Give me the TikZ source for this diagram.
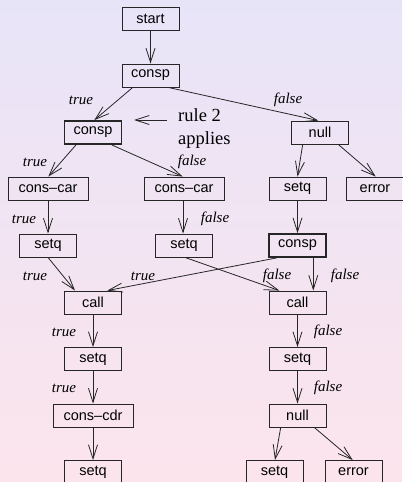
\documentclass[tikz,border=0pt]{standalone}
\usepackage{fontspec}
\setmainfont{Liberation Serif}
\newfontfamily\boxfont{Liberation Sans}
\usetikzlibrary{arrows.meta}
\definecolor{bgtop}{HTML}{E8E4F8}
\definecolor{bgbot}{HTML}{FCE4EC}
\begin{document}
\begin{tikzpicture}[x=1pt,y=-1pt,
  box/.style={draw=black!85, line width=0.9pt, minimum height=23pt, minimum width=57pt,
    inner sep=0pt, font=\boxfont\fontsize{14.5}{16}\selectfont},
  widebox/.style={box, minimum width=80pt},
  thickbox/.style={box, line width=1.8pt},
  lbl/.style={inner sep=0pt, font=\itshape\fontsize{15}{17}\selectfont},
  arr/.style={draw=black!85, line width=0.8pt, -{Straight Barb[length=14pt,width=9pt]}}]
\shade[top color=bgtop, bottom color=bgbot] (0,0) rectangle (402,482);
\useasboundingbox (0,0) rectangle (402,482);

% nodes
\node[box] (start) at (150.5,18.5) {start};
\node[box] (c1) at (150.5,75.5) {consp};
\node[thickbox] (c2) at (93,132.5) {consp};
\node[box] (n1) at (320,132.5) {null};
\node[widebox] (cc1) at (48,188.5) {cons\textendash car};
\node[widebox] (cc2) at (184,188.5) {cons\textendash car};
\node[box] (s1) at (297.5,188.5) {setq};
\node[box] (e1) at (375,188.5) {error};
\node[box] (s2) at (48,245.5) {setq};
\node[box] (s3) at (184,245.5) {setq};
\node[thickbox] (c3) at (297.5,245.5) {consp};
\node[box] (call1) at (93,302.5) {call};
\node[box] (call2) at (297.5,302.5) {call};
\node[box] (s4) at (93,359) {setq};
\node[box] (s5) at (297.5,359) {setq};
\node[widebox] (cdr) at (93,415.5) {cons\textendash cdr};
\node[box] (n2) at (297.5,415.5) {null};
\node[box] (s6) at (93,472) {setq};
\node[box] (s7) at (274.5,472) {setq};
\node[box] (e2) at (353.5,472) {error};

% rule note
\node[anchor=base west, inner sep=0pt, align=left, font=\fontsize{18.5}{23}\selectfont] (rule) at (178,144) {rule 2\\applies};
\coordinate (rulefrom) at (167,120);
\coordinate (ruleto) at (134,120);
\draw[arr] (rulefrom) -- (ruleto);

% edges
\draw[arr] (start) -- (c1);
\draw[arr] ([xshift=-17.8pt]c1.south) -- ([xshift=1.3pt]c2.north);
\draw[arr] ([xshift=17.8pt]c1.south) -- ([xshift=-1.7pt]n1.north);
\draw[arr] ([xshift=-17pt]c2.south) -- ([xshift=0.3pt]cc1.north);
\draw[arr] ([xshift=18.7pt]c2.south) -- ([xshift=-1.3pt]cc2.north);
\draw[arr] ([xshift=-17.3pt]n1.south) -- (s1.north);
\draw[arr] ([xshift=18.3pt]n1.south) -- ([xshift=0.7pt]e1.north);
\draw[arr] (cc1) -- (s2);
\draw[arr] ([xshift=-1pt]cc2.south) -- ([xshift=-1pt]s3.north);
\draw[arr] (s1) -- (c3);
\draw[arr] (s2.south) -- ([xshift=-18pt]call1.north);
\draw[arr] ([xshift=-20.8pt]c3.south) -- ([xshift=14.3pt]call1.north);
\draw[arr] ([xshift=1pt]s3.south) -- ([xshift=-18.2pt]call2.north);
\draw[arr] ([xshift=15.8pt]c3.south) -- ([xshift=15.8pt]call2.north);
\draw[arr] (call1) -- (s4);
\draw[arr] (s4) -- (cdr);
\draw[arr] (cdr) -- (s6);
\draw[arr] (call2) -- (s5);
\draw[arr] (s5) -- (n2);
\draw[arr] ([xshift=-16.8pt]n2.south) -- ([xshift=0.5pt]s7.north);
\draw[arr] ([xshift=16.8pt]n2.south) -- ([xshift=-0.8pt]e2.north);

% edge labels
\node[lbl] (t1) at (81,100) {true};
\node[lbl] (f1) at (288,100) {false};
\node[lbl] (t2) at (35,162) {true};
\node[lbl] (f2) at (192,162) {false};
\node[lbl] (t3) at (24,219) {true};
\node[lbl] (f3) at (215,219) {false};
\node[lbl] (t4) at (35,276) {true};
\node[lbl] (t5) at (143,276) {true};
\node[lbl] (f4) at (277,276) {false};
\node[lbl] (f5) at (345,276) {false};
\node[lbl] (t6) at (64,332) {true};
\node[lbl] (f6) at (328,332) {false};
\node[lbl] (t7) at (64,388) {true};
\node[lbl] (f7) at (328,388) {false};
\end{tikzpicture}
\end{document}
